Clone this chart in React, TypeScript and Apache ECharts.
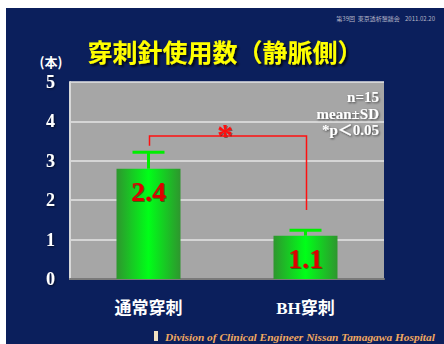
import React, { useEffect, useRef } from "react";
import * as echarts from "echarts";

const categories = ["通常穿刺", "BH穿刺"];
const barValues = [2.8, 1.1];
const barLabels = ["2.4", "1.1"];
const sdValues = [0.42, 0.14];
const yTicks = [0, 1, 2, 3, 4, 5];
const bracket = { leftBottom: 3.38, top: 3.63, rightBottom: 1.75 };
const notes = ["n=15", "mean±SD", "*p＜0.05"];

export default function App() {
  const ref = useRef<HTMLDivElement>(null);
  useEffect(() => {
    const chart = echarts.init(ref.current!, undefined, { renderer: "svg" });
    const serif = "'Liberation Serif', 'Times New Roman', 'Noto Sans CJK JP', serif";
    const shadow = { textShadowColor: "rgba(0,0,0,0.6)", textShadowBlur: 2, textShadowOffsetX: 1, textShadowOffsetY: 1 };
    chart.setOption({
      animation: false,
      backgroundColor: "#ffffff",
      graphic: [
        { type: "rect", z: -10, shape: { x: 6, y: 8, width: 444, height: 344 }, style: { fill: "#0b1f5c" } },
        { type: "text", x: 435, y: 18, style: { text: "第39回  東京透析懇談会    2011.02.20", fill: "#b8b8c8", font: "6px 'Noto Sans CJK JP'", align: "right", verticalAlign: "middle" } },
        { type: "text", x: 225, y: 51, style: { text: "穿刺針使用数（静脈側）", fill: "#ffff00", font: "bold 25px 'Noto Sans CJK JP'", align: "center", verticalAlign: "middle", textShadowColor: "rgba(0,0,0,0.8)", textShadowBlur: 2, textShadowOffsetX: 2, textShadowOffsetY: 2 } },
        { type: "text", x: 51, y: 61, style: { text: "(本)", fill: "#ffffff", font: "bold 13px 'Noto Sans CJK JP'", align: "center", verticalAlign: "middle" } },
        ...notes.map((t, i) => ({ type: "text", z: 10, x: 379, y: 97 + i * 16.5, style: { text: t, fill: "#ffffff", font: "bold 15px " + serif, align: "right", verticalAlign: "middle", ...shadow } })),
        { type: "rect", shape: { x: 154, y: 331, width: 4, height: 10 }, style: { fill: "#f0e0c0" } },
        { type: "text", x: 165, y: 337, style: { text: "Division of Clinical Engineer Nissan Tamagawa Hospital", fill: "#f0a860", font: "italic bold 11.4px " + serif, align: "left", verticalAlign: "middle" } },
      ],
      grid: { left: 70, right: 60, top: 82, bottom: 65, show: true, backgroundColor: "#a6a6a6", borderWidth: 0 },
      xAxis: {
        type: "category",
        data: categories,
        axisTick: { show: false },
        axisLine: { lineStyle: { color: "#7a7a7a", width: 2 } },
        axisLabel: { color: "#ffffff", fontSize: 17, fontWeight: "bold", fontFamily: serif, margin: 21 },
      },
      yAxis: {
        type: "value",
        min: 0,
        max: 5,
        interval: 1,
        axisLine: { show: true, lineStyle: { color: "#d8d8d8", width: 2 } },
        axisTick: { show: false },
        splitLine: { lineStyle: { color: "#e4e4e4", width: 1.5 } },
        axisLabel: { color: "#ffffff", fontSize: 18, fontWeight: "bold", fontFamily: serif, margin: 15, formatter: (v: number) => (yTicks.includes(v) ? String(v) : ""), ...shadow },
      },
      series: [
        {
          type: "bar",
          data: barValues,
          barWidth: 64,
          itemStyle: {
            color: new echarts.graphic.LinearGradient(0, 0, 1, 0, [
              { offset: 0, color: "#2e962e" },
              { offset: 0.5, color: "#00ff18" },
              { offset: 1, color: "#2e962e" },
            ]),
          },
          label: {
            show: true,
            position: "insideTop",
            distance: 9,
            formatter: (p: any) => barLabels[p.dataIndex],
            color: "#e00000",
            fontSize: 28,
            fontWeight: "bold",
            fontFamily: serif,
            textShadowColor: "rgba(80,0,0,0.5)",
            textShadowBlur: 1,
            textShadowOffsetX: 1,
            textShadowOffsetY: 1,
          },
          z: 2,
        },
        {
          type: "custom",
          z: 3,
          data: barValues.map((v, i) => [i, v, v + sdValues[i]]),
          renderItem: (params: any, api: any) => {
            const base = api.coord([api.value(0), api.value(1)]);
            const top = api.coord([api.value(0), api.value(2)]);
            const style = { stroke: "#00ee00", lineWidth: 3 };
            return {
              type: "group",
              children: [
                { type: "line", shape: { x1: base[0], y1: base[1], x2: top[0], y2: top[1] }, style },
                { type: "line", shape: { x1: base[0] - 16, y1: top[1], x2: base[0] + 16, y2: top[1] }, style },
              ],
            };
          },
        },
        {
          type: "custom",
          z: 4,
          data: [[0, bracket.leftBottom, bracket.top, 1, bracket.rightBottom]],
          renderItem: (params: any, api: any) => {
            const a = api.coord([api.value(0), api.value(1)]);
            const b = api.coord([api.value(0), api.value(2)]);
            const c = api.coord([api.value(3), api.value(2)]);
            const d = api.coord([api.value(3), api.value(4)]);
            return {
              type: "group",
              children: [
                { type: "polyline", shape: { points: [[a[0] + 1, a[1]], [b[0] + 1, b[1]], [c[0] + 1, c[1]], [d[0] + 1, d[1]]] }, style: { stroke: "#ff1010", lineWidth: 1.5, fill: "none" } },
                { type: "text", x: (b[0] + c[0]) / 2 - 2, y: b[1] - 1, style: { text: "*", fill: "#ff1010", font: "bold 32px " + serif, align: "center", verticalAlign: "middle", textShadowColor: "rgba(80,0,0,0.5)", textShadowBlur: 1, textShadowOffsetX: 1, textShadowOffsetY: 1 } },
              ],
            };
          },
        },
      ],
    });
    return () => chart.dispose();
  }, []);
  return <div ref={ref} style={{ position: "fixed", left: 0, top: 0, width: 444, height: 344 }} />;
}
